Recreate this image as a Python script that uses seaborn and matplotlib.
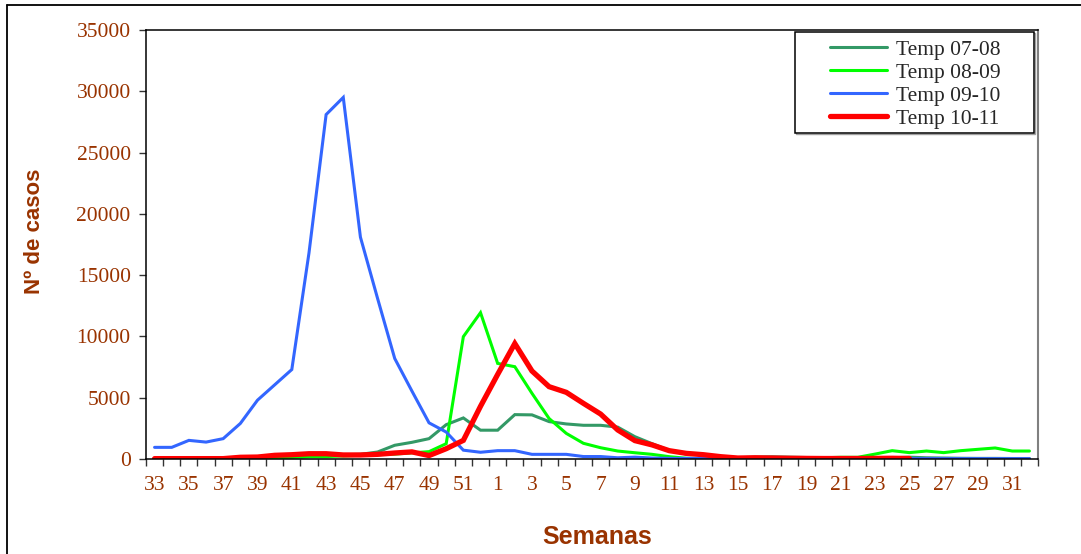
import numpy as np
import pandas as pd
import matplotlib
matplotlib.use("Agg")
import matplotlib.pyplot as plt
from matplotlib.lines import Line2D
from matplotlib.patches import Rectangle
import seaborn as sns

# semanas epidemiologicas (33..52, 1..32)
weeks = list(range(33, 53)) + list(range(1, 33))

temp_0708 = [20, 20, 20, 30, 30, 50, 80, 120, 150, 200, 280, 350, 380, 570, 1120, 1360,
             1660, 2800, 3350, 2350, 2350, 3620, 3600, 3050, 2860, 2750, 2750, 2600, 1820, 1250,
             700, 400, 350, 200, 100, 150, 180, 150, 120, 120, 120, 100, 100, 100, 150, 100,
             80, 60, 50, 50, 40, 40]
temp_0809 = [0, 0, 0, 0, 0, 0, 0, 100, 150, 200, 200, 250, 300, 350, 400, 500,
             600, 1250, 9980, 11940, 7800, 7530, 5360, 3300, 2090, 1280, 920, 650, 510, 380,
             190, 60, 40, 30, 20, 20, 20, 30, 50, 100, 140, 140, 400, 680, 520, 650,
             520, 680, 790, 900, 650, 650]
temp_0910 = [950, 950, 1520, 1380, 1660, 2900, 4800, 6050, 7300, 16800, 28100, 29500, 18100, 13100, 8200, 5550,
             2950, 2200, 720, 550, 680, 680, 380, 380, 380, 200, 200, 100, 150, 80,
             50, 50, 40, 40, 40, 30, 30, 30, 30, 30, 30, 30, 30, 30, 30, 30,
             30, 30, 30, 30, 30, 30]
temp_1011 = [30, 30, 30, 30, 30, 140, 160, 300, 350, 430, 430, 330, 330, 380, 490, 580,
             280, 840, 1520, 4300, 6900, 9420, 7180, 5900, 5440, 4540, 3670, 2370, 1500, 1150,
             680, 460, 350, 190, 80, 100, 80, 60, 50, 40, 40, 40, 50, 60, 40,
             np.nan, np.nan, np.nan, np.nan, np.nan, np.nan, np.nan]

series = {
    "Temp 07-08": (temp_0708, "#339966", 2.2),
    "Temp 08-09": (temp_0809, "#00FF00", 2.2),
    "Temp 09-10": (temp_0910, "#3366FF", 2.2),
    "Temp 10-11": (temp_1011, "#FF0000", 3.8),
}

sns.set_style("white")
brown = "#993300"
serif = ["Liberation Serif", "DejaVu Serif"]
sans = ["Liberation Sans", "DejaVu Sans"]

fig = plt.figure(figsize=(10.81, 5.54), dpi=100)
ax = fig.add_axes([146 / 1081, 1 - 459 / 554, 892 / 1081, 429 / 554])

pos = np.arange(len(weeks))
for name, (vals, color, lw) in series.items():
    df = pd.DataFrame({"pos": pos, "casos": vals}).dropna()
    sns.lineplot(data=df, x="pos", y="casos", color=color, linewidth=lw, label=name, ax=ax,
                 solid_joinstyle="miter")

ax.set_xlim(-0.5, len(weeks) - 0.5)
ax.set_ylim(0, 35000)
ax.set_yticks(np.arange(0, 35001, 5000))
ax.set_xticks(pos[::2])
ax.set_xticklabels([str(w) for w in weeks[::2]])
ax.set_xticks(np.arange(-0.5, len(weeks), 1.0), minor=True)
ax.tick_params(axis="x", which="major", length=0, pad=12)
ax.tick_params(axis="x", which="minor", length=5, width=1, color="#333333", direction="out", bottom=True)
ax.tick_params(axis="y", length=5, width=1, color="#333333", direction="out", left=True, pad=6)
for lab in ax.get_xticklabels() + ax.get_yticklabels():
    lab.set_family(serif)
    lab.set_fontsize(15.5)
    lab.set_color(brown)

for side in ["left", "bottom", "top"]:
    ax.spines[side].set_color("black")
    ax.spines[side].set_linewidth(1.1)
ax.spines["right"].set_color("#808080")
ax.spines["right"].set_linewidth(1.5)

ax.set_xlabel("Semanas", family=sans, fontsize=18, fontweight="bold", color=brown)
ax.set_ylabel("Nº de casos", family=sans, fontsize=16, fontweight="bold", color=brown)
ax.xaxis.set_label_coords(0.506, -0.154)
ax.yaxis.set_label_coords(-0.113, 0.53)

# leyenda sin marco propio; el recuadro se dibuja aparte como en Excel
leg = ax.legend(loc="upper left", bbox_to_anchor=(0.767, 0.978), borderaxespad=0,
                prop={"family": serif, "size": 15.5}, frameon=False,
                handlelength=2.65, handletextpad=0.4, labelspacing=0.14, borderpad=0)
for h, (name, (vals, color, lw)) in zip(leg.get_lines(), series.items()):
    h.set_linewidth(lw)
    h.set_solid_capstyle("round")
ax.add_patch(Rectangle((0.7290, 0.757), 0.268, 0.235, transform=ax.transAxes, fill=False,
                       edgecolor="#a0a0a0", linewidth=1.0, zorder=4, clip_on=False))
ax.add_patch(Rectangle((0.7276, 0.760), 0.268, 0.2353, transform=ax.transAxes, facecolor="white",
                       edgecolor="black", linewidth=1.1, zorder=4.5, clip_on=False))
leg.set_zorder(5)

# marco exterior del grafico
fig.add_artist(Line2D([7 / 1081, 7 / 1081], [0, 1 - 5 / 554], transform=fig.transFigure,
                      color="black", linewidth=1.3))
fig.add_artist(Line2D([7 / 1081, 1], [1 - 5 / 554, 1 - 5 / 554], transform=fig.transFigure,
                      color="black", linewidth=1.3))

fig.savefig("out.png", dpi=100)
